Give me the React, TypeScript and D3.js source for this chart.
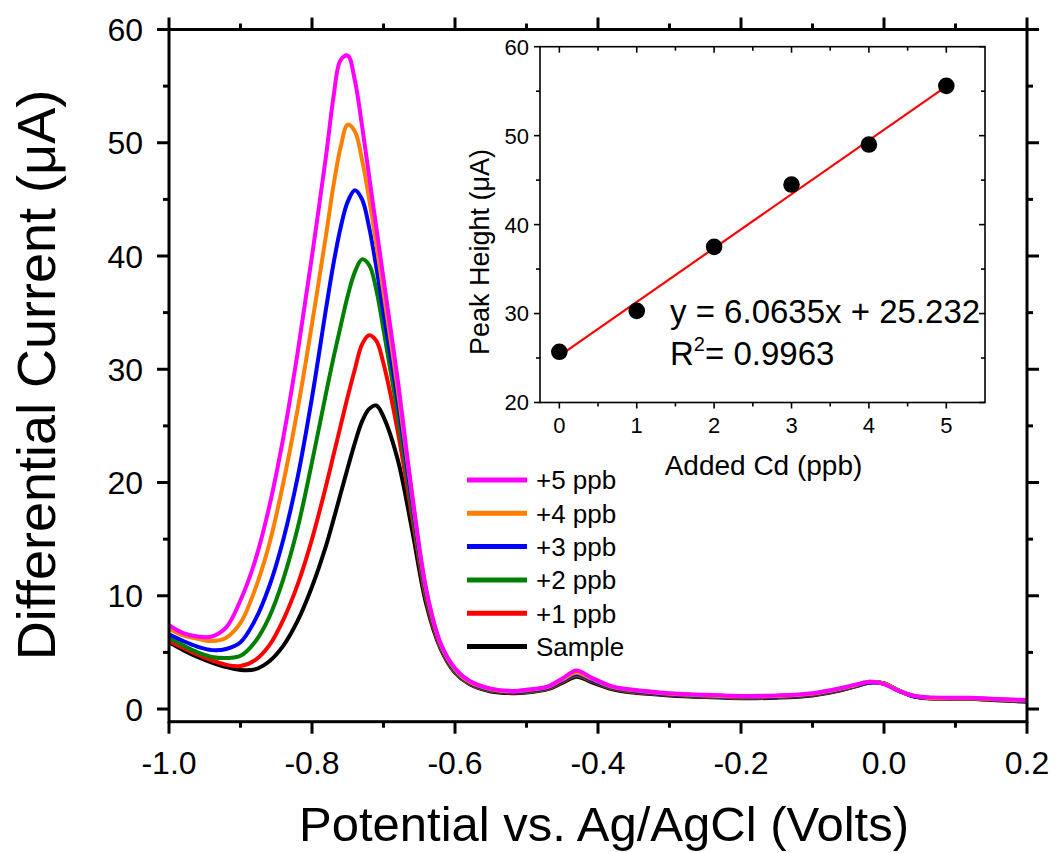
import React from "react";
import * as d3 from "d3";

const potential = [-1.0, -0.98, -0.96, -0.94, -0.92, -0.9, -0.88, -0.86, -0.84, -0.82, -0.8, -0.78, -0.77, -0.76, -0.75, -0.74, -0.73, -0.72, -0.71, -0.7, -0.68, -0.66, -0.64, -0.62, -0.6, -0.58, -0.55, -0.52, -0.5, -0.47, -0.45, -0.43, -0.41, -0.38, -0.35, -0.3, -0.25, -0.2, -0.15, -0.1, -0.06, -0.04, -0.02, 0.0, 0.02, 0.04, 0.06, 0.1, 0.12, 0.15, 0.2];

const sample = [5.9, 5.2, 4.6, 4.1, 3.7, 3.45, 3.5, 4.2, 5.6, 7.8, 10.8, 14.5, 16.7, 19.0, 21.3, 23.5, 25.4, 26.5, 26.8, 25.8, 22.0, 15.8, 9.2, 5.3, 3.2, 2.2, 1.55, 1.4, 1.45, 1.75, 2.3, 2.85, 2.4, 1.75, 1.45, 1.2, 1.05, 0.95, 1.0, 1.2, 1.65, 2.0, 2.35, 2.25, 1.65, 1.15, 0.95, 0.9, 0.9, 0.8, 0.65];
const plus1 = [6.0, 5.4, 4.8, 4.3, 3.9, 3.8, 4.3, 5.6, 7.9, 11.0, 15.0, 19.8, 22.4, 25.0, 27.6, 30.0, 32.2, 33.0, 32.5, 30.5, 24.5, 17.0, 9.6, 5.4, 3.25, 2.25, 1.6, 1.45, 1.5, 1.8, 2.4, 2.95, 2.5, 1.8, 1.5, 1.25, 1.1, 1.0, 1.05, 1.25, 1.7, 2.0, 2.35, 2.25, 1.65, 1.15, 0.97, 0.92, 0.92, 0.83, 0.68];
const plus2 = [6.3, 5.6, 5.0, 4.6, 4.5, 4.7, 5.9, 8.1, 11.5, 16.0, 21.8, 28.0, 31.0, 33.8, 36.5, 38.6, 39.7, 39.2, 37.0, 33.5, 26.0, 17.6, 9.9, 5.5, 3.3, 2.3, 1.65, 1.5, 1.55, 1.85, 2.45, 3.0, 2.55, 1.85, 1.55, 1.3, 1.12, 1.02, 1.08, 1.28, 1.72, 2.02, 2.35, 2.25, 1.65, 1.15, 0.98, 0.93, 0.93, 0.85, 0.7];
const plus3 = [6.6, 6.0, 5.5, 5.2, 5.3, 5.9, 7.8, 10.8, 15.0, 20.5, 27.5, 35.5, 39.3, 42.5, 44.8, 45.8, 45.0, 42.5, 39.0, 35.0, 27.2, 18.3, 10.2, 5.6, 3.4, 2.35, 1.7, 1.5, 1.6, 1.9, 2.5, 3.1, 2.6, 1.9, 1.6, 1.3, 1.15, 1.05, 1.1, 1.3, 1.75, 2.05, 2.35, 2.25, 1.65, 1.15, 1.0, 0.95, 0.95, 0.87, 0.72];
const plus4 = [7.1, 6.5, 6.2, 6.0, 6.3, 7.6, 10.5, 14.5, 20.0, 26.5, 34.0, 42.0, 46.2, 49.6, 51.6, 51.0, 48.5, 45.0, 41.0, 36.8, 28.2, 18.8, 10.4, 5.7, 3.5, 2.4, 1.75, 1.55, 1.65, 1.95, 2.6, 3.2, 2.7, 1.95, 1.65, 1.35, 1.2, 1.1, 1.15, 1.35, 1.8, 2.1, 2.4, 2.25, 1.65, 1.2, 1.0, 0.95, 0.95, 0.88, 0.75];
const plus5 = [7.4, 6.7, 6.4, 6.4, 7.2, 9.6, 13.0, 17.8, 24.0, 31.5, 40.0, 49.0, 54.0, 57.3, 57.7, 55.5, 51.5, 47.0, 42.5, 38.0, 29.0, 19.0, 10.5, 5.8, 3.6, 2.5, 1.8, 1.6, 1.7, 2.0, 2.7, 3.4, 2.8, 2.0, 1.7, 1.4, 1.25, 1.15, 1.2, 1.4, 1.85, 2.15, 2.4, 2.2, 1.6, 1.2, 1.05, 1.0, 1.0, 0.9, 0.8];

const seriesNames = ["Sample", "+1 ppb", "+2 ppb", "+3 ppb", "+4 ppb", "+5 ppb"];
const seriesValues = [sample, plus1, plus2, plus3, plus4, plus5];
const seriesColors = ["#000000", "#FF0000", "#008000", "#0000FF", "#FF8000", "#FF00FF"];

const xMajorTicks = [-1.0, -0.8, -0.6, -0.4, -0.2, 0.0, 0.2];
const xTickLabels = ["-1.0", "-0.8", "-0.6", "-0.4", "-0.2", "0.0", "0.2"];
const yMajorTicks = [0, 10, 20, 30, 40, 50, 60];

const addedCd = [0, 1, 2, 3, 4, 5];
const peakHeight = [25.7, 30.3, 37.5, 44.5, 49.0, 55.6];
const fitSlope = 6.0635;
const fitIntercept = 25.232;
const insetXTicks = [0, 1, 2, 3, 4, 5];
const insetYTicks = [20, 30, 40, 50, 60];

const FONT = "'Liberation Sans', Arial, Helvetica, sans-serif";

export default function App() {
  // main plot
  const L = 169, R = 1027, T = 29.5, B = 721.7;
  const x = d3.scaleLinear().domain([-1.0, 0.2]).range([L, R]);
  const y = d3.scaleLinear().domain([-1.12, 60]).range([B, T]);
  const line = d3
    .line<number>()
    .x((_, i) => x(potential[i]))
    .y((d) => y(d))
    .curve(d3.curveCatmullRom.alpha(0.5));

  const xMinor = d3.range(-0.9, 0.2, 0.2);
  const yMinor = d3.range(5, 60, 10);

  // inset
  const iL = 540, iR = 985, iT = 46.7, iB = 402.5;
  const ix = d3.scaleLinear().domain([-0.25, 5.5]).range([iL, iR]);
  const iy = d3.scaleLinear().domain([20, 60]).range([iB, iT]);
  const ixMinor = d3.range(0.5, 5.5, 1);
  const iyMinor = d3.range(25, 60, 10);

  const legendOrder = [5, 4, 3, 2, 1, 0];

  return (
    <svg
      width={1055}
      height={853}
      style={{ position: "absolute", left: 0, top: 0, background: "#fff" }}
      fontFamily={FONT}
    >
      <rect x={0} y={0} width={1055} height={853} fill="#fff" />
      <defs>
        <clipPath id="mainClip">
          <rect x={L} y={T} width={R - L} height={B - T} />
        </clipPath>
      </defs>

      {/* curves */}
      <g clipPath="url(#mainClip)">
        {seriesValues.map((vals, k) => (
          <path
            key={k}
            d={line(vals) || ""}
            fill="none"
            stroke={seriesColors[k]}
            strokeWidth={4}
            strokeLinejoin="round"
          />
        ))}
      </g>

      {/* main frame */}
      <rect x={L} y={T} width={R - L} height={B - T} fill="none" stroke="#000" strokeWidth={3} />

      {/* x ticks bottom & top */}
      {xMajorTicks.map((t, i) => (
        <g key={"xt" + i}>
          <line x1={x(t)} x2={x(t)} y1={B} y2={B + 12} stroke="#000" strokeWidth={3} />
          <line x1={x(t)} x2={x(t)} y1={T} y2={T - 12} stroke="#000" strokeWidth={3} />
          <text x={x(t)} y={773.5} textAnchor="middle" fontSize={32} fill="#000">
            {xTickLabels[i]}
          </text>
        </g>
      ))}
      {xMinor.map((t, i) => (
        <g key={"xm" + i}>
          <line x1={x(t)} x2={x(t)} y1={B} y2={B + 6} stroke="#000" strokeWidth={3} />
          <line x1={x(t)} x2={x(t)} y1={T} y2={T - 6} stroke="#000" strokeWidth={3} />
        </g>
      ))}

      {/* y ticks left & right */}
      {yMajorTicks.map((t, i) => (
        <g key={"yt" + i}>
          <line x1={L} x2={L - 12} y1={y(t)} y2={y(t)} stroke="#000" strokeWidth={3} />
          <line x1={R} x2={R + 12} y1={y(t)} y2={y(t)} stroke="#000" strokeWidth={3} />
          <text x={143} y={y(t)} dy="0.36em" textAnchor="end" fontSize={32} fill="#000">
            {t}
          </text>
        </g>
      ))}
      {yMinor.map((t, i) => (
        <g key={"ym" + i}>
          <line x1={L} x2={L - 6} y1={y(t)} y2={y(t)} stroke="#000" strokeWidth={3} />
          <line x1={R} x2={R + 6} y1={y(t)} y2={y(t)} stroke="#000" strokeWidth={3} />
        </g>
      ))}

      {/* axis titles */}
      <text x={604} y={841} textAnchor="middle" fontSize={49} fill="#000">
        Potential vs. Ag/AgCl (Volts)
      </text>
      <text
        transform={`translate(55, 375) rotate(-90)`}
        textAnchor="middle"
        fontSize={54}
        fill="#000"
      >
        Differential Current (μA)
      </text>

      {/* legend */}
      {legendOrder.map((k, i) => {
        const yy = 480 + i * 33.3;
        return (
          <g key={"lg" + k}>
            <line x1={467} x2={527} y1={yy} y2={yy} stroke={seriesColors[k]} strokeWidth={5} />
            <text x={536} y={yy} dy="0.36em" fontSize={26} fill="#000">
              {seriesNames[k]}
            </text>
          </g>
        );
      })}

      {/* inset */}
      <rect x={iL} y={iT} width={iR - iL} height={iB - iT} fill="#fff" stroke="none" />
      <line
        x1={ix(0)}
        x2={ix(5)}
        y1={iy(fitIntercept)}
        y2={iy(fitIntercept + fitSlope * 5)}
        stroke="#FF0000"
        strokeWidth={2.2}
      />
      {addedCd.map((v, i) => (
        <circle key={"pt" + i} cx={ix(v)} cy={iy(peakHeight[i])} r={8.3} fill="#000" />
      ))}
      <rect x={iL} y={iT} width={iR - iL} height={iB - iT} fill="none" stroke="#000" strokeWidth={1.6} />
      {insetXTicks.map((t, i) => (
        <g key={"ixt" + i}>
          <line x1={ix(t)} x2={ix(t)} y1={iB} y2={iB + 6} stroke="#000" strokeWidth={1.6} />
          <line x1={ix(t)} x2={ix(t)} y1={iT} y2={iT + 6} stroke="#000" strokeWidth={1.6} />
          <text x={ix(t)} y={433} textAnchor="middle" fontSize={22} fill="#000">
            {t}
          </text>
        </g>
      ))}
      {ixMinor.map((t, i) => (
        <g key={"ixm" + i}>
          <line x1={ix(t)} x2={ix(t)} y1={iB} y2={iB + 4} stroke="#000" strokeWidth={1.6} />
          <line x1={ix(t)} x2={ix(t)} y1={iT} y2={iT + 4} stroke="#000" strokeWidth={1.6} />
        </g>
      ))}
      {insetYTicks.map((t, i) => (
        <g key={"iyt" + i}>
          <line x1={iL} x2={iL - 6} y1={iy(t)} y2={iy(t)} stroke="#000" strokeWidth={1.6} />
          <line x1={iR} x2={iR - 6} y1={iy(t)} y2={iy(t)} stroke="#000" strokeWidth={1.6} />
          <text x={529} y={iy(t)} dy="0.36em" textAnchor="end" fontSize={22} fill="#000">
            {t}
          </text>
        </g>
      ))}
      {iyMinor.map((t, i) => (
        <g key={"iym" + i}>
          <line x1={iL} x2={iL - 4} y1={iy(t)} y2={iy(t)} stroke="#000" strokeWidth={1.6} />
          <line x1={iR} x2={iR - 4} y1={iy(t)} y2={iy(t)} stroke="#000" strokeWidth={1.6} />
        </g>
      ))}
      <text x={(iL + iR) / 2 + 1} y={475} textAnchor="middle" fontSize={28} fill="#000">
        Added Cd (ppb)
      </text>
      <text
        transform={`translate(489, 252) rotate(-90)`}
        textAnchor="middle"
        fontSize={27}
        fill="#000"
      >
        Peak Height (μA)
      </text>
      <text x={670} y={323} fontSize={33} fill="#000">
        y = 6.0635x + 25.232
      </text>
      <text x={670} y={365} fontSize={33} fill="#000">
        R<tspan dy={-14} fontSize={20}>2</tspan>
        <tspan dy={14}>= 0.9963</tspan>
      </text>
    </svg>
  );
}
